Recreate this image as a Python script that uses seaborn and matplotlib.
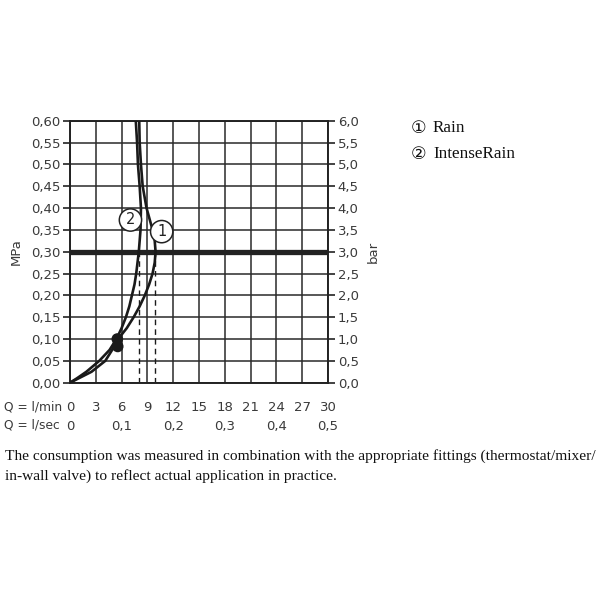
import matplotlib
matplotlib.use("Agg")
import matplotlib.pyplot as plt
import seaborn as sns
import pandas as pd

# ---- data ----
pressure_mpa = [0, 0.01, 0.025, 0.05, 0.075, 0.10, 0.125, 0.15, 0.175, 0.20, 0.225,
                0.25, 0.275, 0.30, 0.325, 0.35, 0.40, 0.45, 0.50, 0.55, 0.60]
rain_q = [0, 1.0, 2.5, 4.1, 4.9, 5.6, 6.6, 7.4, 8.1, 8.7, 9.2,
          9.6, 9.85, 9.95, 9.85, 9.6, 8.9, 8.45, 8.25, 8.1, 8.05]
intense_q = [0, 0.8, 1.9, 3.4, 4.6, 5.4, 6.0, 6.5, 6.9, 7.2, 7.5,
             7.7, 7.85, 8.0, 8.1, 8.2, 8.25, 8.1, 7.9, 7.8, 7.65]
dot_q = [5.5, 5.55]
dot_p = [0.100, 0.083]
dashed_q = [9.9, 8.0]
ref_pressure = 0.30

lmin_ticks = [0, 3, 6, 9, 12, 15, 18, 21, 24, 27, 30]
lsec_ticks = [0, 0.1, 0.2, 0.3, 0.4, 0.5]
mpa_ticks = [0, 0.05, 0.10, 0.15, 0.20, 0.25, 0.30, 0.35, 0.40, 0.45, 0.50, 0.55, 0.60]
bar_labels = ["0,0", "0,5", "1,0", "1,5", "2,0", "2,5", "3,0", "3,5", "4,0", "4,5", "5,0", "5,5", "6,0"]

legend_marks = ["\u2460", "\u2461"]
legend_names = ["Rain", "IntenseRain"]
caption = ("The consumption was measured in combination with the appropriate fittings (thermostat/mixer/\n"
           "in-wall valve) to reflect actual application in practice.")

# ---- style ----
sns.set_theme(style="white")
plt.rcParams['font.family'] = ['DejaVu Sans']
tick_color = "#3a3a3a"
line_color = "#1a1a1a"

fig = plt.figure(figsize=(6, 6), dpi=100)
ax = fig.add_axes([70/600, 1-382.7/600, 258/600, 262/600])

df = pd.DataFrame({
    "Q": rain_q + intense_q,
    "p": pressure_mpa + pressure_mpa,
    "series": ["Rain"] * len(rain_q) + ["IntenseRain"] * len(intense_q),
})

# grid
ax.set_xlim(0, 30)
ax.set_ylim(0, 0.60)
ax.set_xticks(lmin_ticks)
ax.set_yticks(mpa_ticks)
ax.grid(True, color="#2a2a2a", linewidth=1.1)
ax.set_axisbelow(True)

# dashed verticals
for q in dashed_q:
    ax.plot([q, q], [0, ref_pressure], color=line_color, lw=1.0, ls=(0, (4, 3)), zorder=2)

# reference line
ax.axhline(ref_pressure, color="#222222", lw=3.8, zorder=3)

# curves
sns.lineplot(data=df, x="Q", y="p", hue="series", sort=False, estimator=None,
             palette={"Rain": line_color, "IntenseRain": line_color},
             lw=1.9, legend=False, ax=ax, zorder=4)
sns.scatterplot(x=dot_q, y=dot_p, color=line_color, s=70, edgecolor="none", ax=ax, zorder=5)

# circled labels
ax.text(7.03, 0.3726, "2", ha="center", va="center", fontsize=10.5, color="#222",
        bbox=dict(boxstyle="circle,pad=0.25", fc="white", ec="#222", lw=1.1), zorder=6)
ax.text(10.66, 0.346, "1", ha="center", va="center", fontsize=10.5, color="#222",
        bbox=dict(boxstyle="circle,pad=0.25", fc="white", ec="#222", lw=1.1), zorder=6)

for s in ax.spines.values():
    s.set_color("#222")
    s.set_linewidth(1.4)

ax.set_yticklabels([f"{v:.2f}".replace(".", ",") for v in mpa_ticks])
ax.set_xticklabels([str(v) for v in lmin_ticks])
ax.tick_params(axis="both", which="major", direction="out", length=5, width=1.2,
               color="#222", labelcolor=tick_color, labelsize=9.5)
ax.tick_params(axis="x", pad=8.5)
ax.tick_params(axis="y", pad=2)
ax.set_xlabel("")
ax.set_ylabel("MPa", color=tick_color, fontsize=9.5, labelpad=6)

# right axis (bar)
ax2 = ax.twinx()
ax2.set_ylim(0, 6.0)
ax2.set_yticks([i * 0.5 for i in range(13)])
ax2.set_yticklabels(bar_labels)
ax2.tick_params(axis="y", direction="out", length=5, width=1.2, color="#222",
                labelcolor=tick_color, labelsize=9.5, pad=2)
ax2.set_ylabel("bar", color=tick_color, fontsize=9.5, labelpad=6)
ax2.grid(False)
for s in ax2.spines.values():
    s.set_visible(False)

# l/sec axis
sec = ax.secondary_xaxis(-0.133, functions=(lambda q: q / 60.0, lambda s: s * 60.0))
sec.set_xticks(lsec_ticks)
sec.set_xticklabels(["0"] + [f"{v:.1f}".replace(".", ",") for v in lsec_ticks[1:]])
sec.tick_params(axis="x", length=0, labelcolor=tick_color, labelsize=9.5, pad=2)
sec.spines["bottom"].set_visible(False)

# row titles
fig.text(4/600, 1-407.5/600, "Q = l/min", ha="left", va="center", fontsize=8.8, color=tick_color)
fig.text(4/600, 1-425.5/600, "Q = l/sec", ha="left", va="center", fontsize=8.8, color=tick_color)

# legend
lfam = ['Liberation Serif', 'DejaVu Sans']
for i, (mk, nm) in enumerate(zip(legend_marks, legend_names)):
    yy = 1 - (128 + 26 * i) / 600
    fig.text(411/600, yy, mk, ha="left", va="center", fontsize=12.5, color="#111",
             family=['DejaVu Sans'])
    fig.text(433/600, yy, nm, ha="left", va="center", fontsize=12.3, color="#111",
             family=lfam)

# caption
fig.text(5/600, 1-449/600, caption, ha="left", va="top", fontsize=11.1, color="#111",
         family=lfam, linespacing=1.6)

fig.savefig("out.png", dpi=100, facecolor="white")
